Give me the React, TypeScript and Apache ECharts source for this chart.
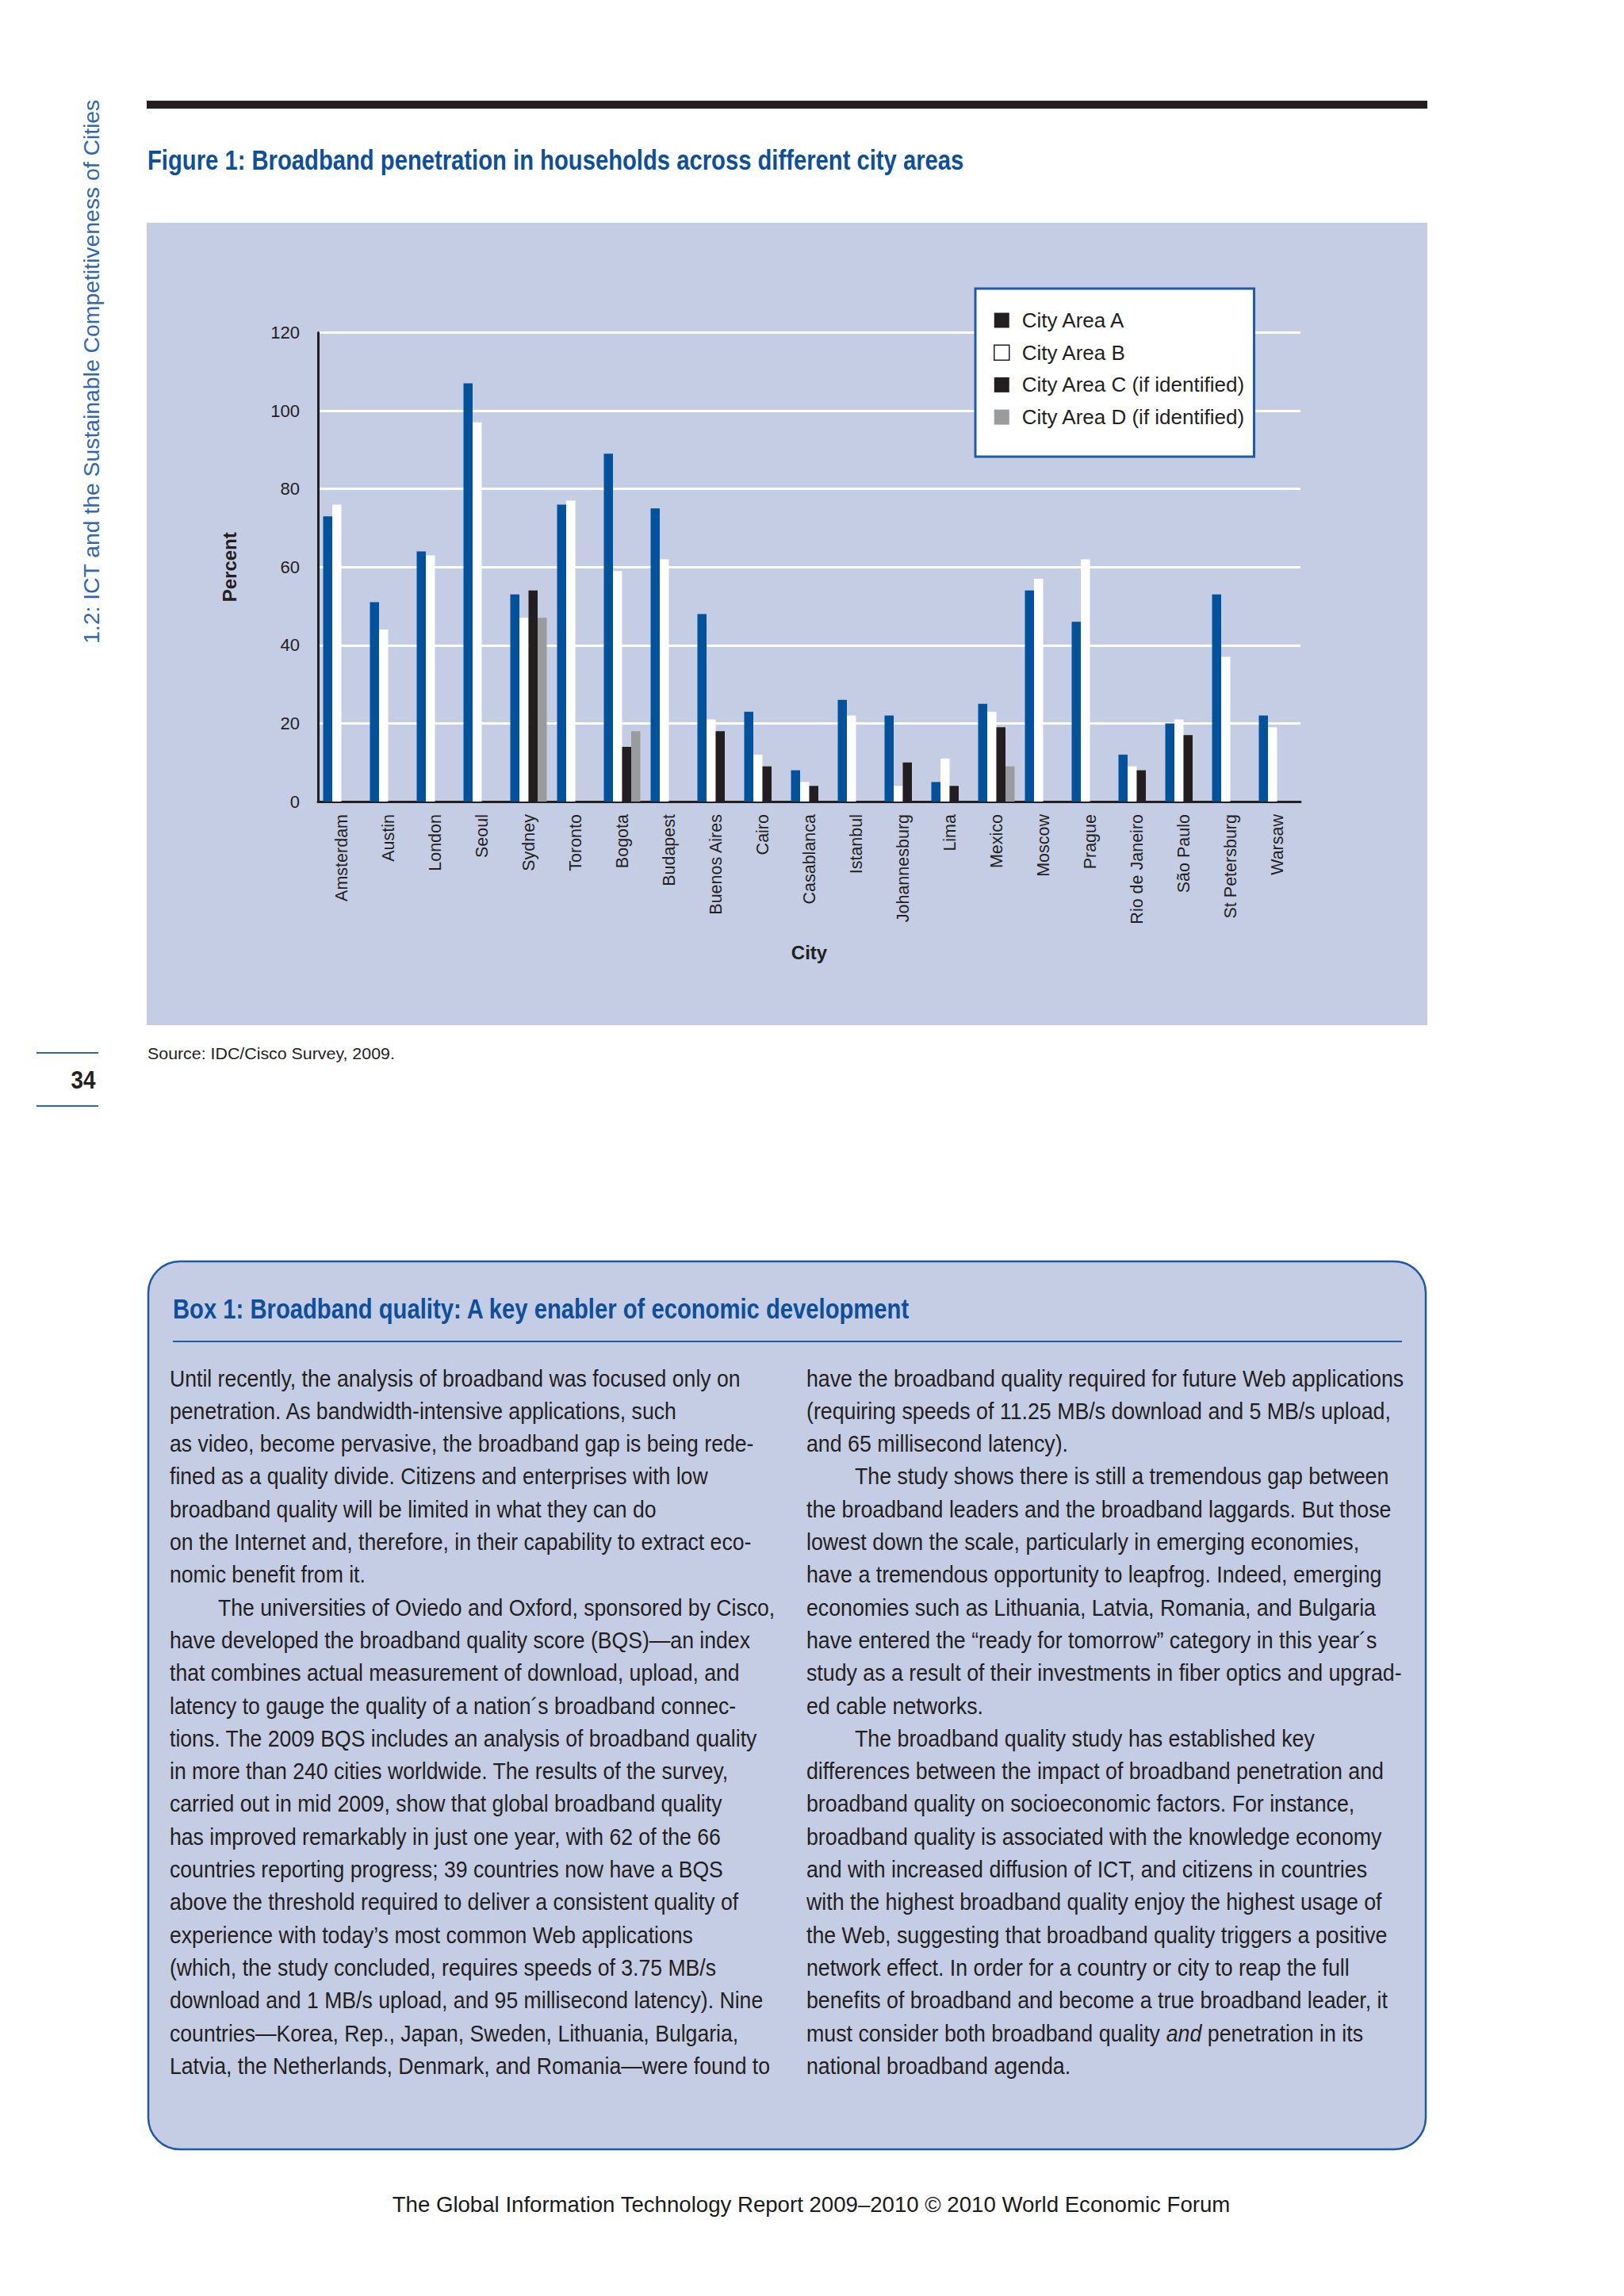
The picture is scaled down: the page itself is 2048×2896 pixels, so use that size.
import React, { useEffect, useRef } from "react";
import * as echarts from "echarts";

// ---------- data ----------
const cities = [
  "Amsterdam", "Austin", "London", "Seoul", "Sydney", "Toronto", "Bogota",
  "Budapest", "Buenos Aires", "Cairo", "Casablanca", "Istanbul", "Johannesburg",
  "Lima", "Mexico", "Moscow", "Prague", "Rio de Janeiro", "São Paulo",
  "St Petersburg", "Warsaw",
];
const areaA = [73, 51, 64, 107, 53, 76, 89, 75, 48, 23, 8, 26, 22, 5, 25, 54, 46, 12, 20, 53, 22];
const areaB = [76, 44, 63, 97, 47, 77, 59, 62, 21, 12, 5, 22, 4, 11, 23, 57, 62, 9, 21, 37, 19];
const areaC = [null, null, null, null, 54, null, 14, null, 18, 9, 4, null, 10, 4, 19, null, null, 8, 17, null, null];
const areaD = [null, null, null, null, 47, null, 18, null, null, null, null, null, null, null, 9, null, null, null, null, null, null];
const seriesNames = [
  "City Area A",
  "City Area B",
  "City Area C (if identified)",
  "City Area D (if identified)",
];
const yMin = 0;
const yMax = 120;
const yInterval = 20;

// ---------- page texts ----------
const sidebarText = "1.2: ICT and the Sustainable Competitiveness of Cities";
const figureTitle = "Figure 1: Broadband penetration in households across different city areas";
const sourceText = "Source: IDC/Cisco Survey, 2009.";
const pageNumber = "34";
const boxTitle = "Box 1: Broadband quality: A key enabler of economic development";
const footerText = "The Global Information Technology Report 2009–2010 © 2010 World Economic Forum";

const leftLines = [
  "Until recently, the analysis of broadband was focused only on",
  "penetration. As bandwidth-intensive applications, such",
  "as video, become pervasive, the broadband gap is being rede-",
  "fined as a quality divide. Citizens and enterprises with low",
  "broadband quality will be limited in what they can do",
  "on the Internet and, therefore, in their capability to extract eco-",
  "nomic benefit from it.",
  "The universities of Oviedo and Oxford, sponsored by Cisco,",
  "have developed the broadband quality score (BQS)—an index",
  "that combines actual measurement of download, upload, and",
  "latency to gauge the quality of a nation´s broadband connec-",
  "tions. The 2009 BQS includes an analysis of broadband quality",
  "in more than 240 cities worldwide. The results of the survey,",
  "carried out in mid 2009, show that global broadband quality",
  "has improved remarkably in just one year, with 62 of the 66",
  "countries reporting progress; 39 countries now have a BQS",
  "above the threshold required to deliver a consistent quality of",
  "experience with today’s most common Web applications",
  "(which, the study concluded, requires speeds of 3.75 MB/s",
  "download and 1 MB/s upload, and 95 millisecond latency). Nine",
  "countries—Korea, Rep., Japan, Sweden, Lithuania, Bulgaria,",
  "Latvia, the Netherlands, Denmark, and Romania—were found to",
];
const leftIndent = [7];
const rightLines = [
  "have the broadband quality required for future Web applications",
  "(requiring speeds of 11.25 MB/s download and 5 MB/s upload,",
  "and 65 millisecond latency).",
  "The study shows there is still a tremendous gap between",
  "the broadband leaders and the broadband laggards. But those",
  "lowest down the scale, particularly in emerging economies,",
  "have a tremendous opportunity to leapfrog. Indeed, emerging",
  "economies such as Lithuania, Latvia, Romania, and Bulgaria",
  "have entered the “ready for tomorrow” category in this year´s",
  "study as a result of their investments in fiber optics and upgrad-",
  "ed cable networks.",
  "The broadband quality study has established key",
  "differences between the impact of broadband penetration and",
  "broadband quality on socioeconomic factors. For instance,",
  "broadband quality is associated with the knowledge economy",
  "and with increased diffusion of ICT, and citizens in countries",
  "with the highest broadband quality enjoy the highest usage of",
  "the Web, suggesting that broadband quality triggers a positive",
  "network effect. In order for a country or city to reap the full",
  "benefits of broadband and become a true broadband leader, it",
  "must consider both broadband quality {i|and} penetration in its",
  "national broadband agenda.",
];
const rightIndent = [3, 11];

// ---------- styling ----------
const FF = '"Liberation Sans", Arial, Helvetica, sans-serif';
const BLUE = "#00529c";
const DARK = "#231f20";
const GREY = "#9a9b9d";
const PANEL = "#c5cde4";
const TITLE_BLUE = "#0d4f9c";
const RULE_BLUE = "#1f5aa6";

function hasFont(ctx: CanvasRenderingContext2D, name: string): boolean {
  const s = "abcdefghijklmnopqrstuvwxyz ABCDEFGHIJKLMNOPQRSTUVWXYZ 0123456789";
  ctx.font = "40px monospace";
  const w1 = ctx.measureText(s).width;
  ctx.font = `40px "${name}", monospace`;
  const w2 = ctx.measureText(s).width;
  ctx.font = "40px serif";
  const w3 = ctx.measureText(s).width;
  ctx.font = `40px "${name}", serif`;
  const w4 = ctx.measureText(s).width;
  return Math.abs(w1 - w2) > 0.5 || Math.abs(w3 - w4) > 0.5;
}

export default function App() {
  const ref = useRef<HTMLDivElement>(null);

  useEffect(() => {
    const el = ref.current;
    if (!el) return;
    const canvas = document.createElement("canvas");
    const ctx = canvas.getContext("2d") as CanvasRenderingContext2D;
    const narrow = hasFont(ctx, "Liberation Sans Narrow");
    const NF = narrow ? '"Liberation Sans Narrow", "Liberation Sans", Arial, sans-serif' : FF;

    const measure = (text: string, size: number, weight = "normal", family = FF) => {
      ctx.font = `${weight} ${size}px ${family}`;
      return ctx.measureText(text).width;
    };

    const fitText = (o: {
      text: string; x: number; y: number; size: number; width?: number;
      weight?: string; fill?: string; align?: string; rotation?: number; scale?: number; rich?: any;
    }) => {
      const weight = o.weight || "normal";
      const plain = o.text.replace(/\{i\|([^}]*)\}/g, "$1");
      let s = o.scale ?? 1;
      if (o.width) s = o.width / measure(plain, o.size, weight);
      return {
        type: "text",
        x: o.x,
        y: o.y,
        z: 10,
        rotation: o.rotation || 0,
        scaleX: s,
        style: {
          text: o.text,
          fontSize: o.size,
          fontFamily: FF,
          fontWeight: weight,
          fill: o.fill || DARK,
          align: o.align || "left",
          verticalAlign: "middle",
          rich: o.rich,
        },
      };
    };

    const graphics: any[] = [];
    // top rule
    graphics.push({ type: "rect", z: 1, shape: { x: 185, y: 127, width: 1615, height: 10 }, style: { fill: DARK } });
    // sidebar
    graphics.push(fitText({ text: sidebarText, x: 116, y: 812, size: 27, width: 687, fill: "#2f68b0", rotation: Math.PI / 2 }));
    // figure title
    graphics.push(fitText({ text: figureTitle, x: 186, y: 202, size: 35, width: 1029, weight: "bold", fill: TITLE_BLUE }));
    // chart panel
    graphics.push({ type: "rect", z: -1, shape: { x: 185, y: 281, width: 1615, height: 1012 }, style: { fill: PANEL } });
    // source
    graphics.push(fitText({ text: sourceText, x: 186, y: 1329, size: 21, width: 312 }));
    // page number
    graphics.push(fitText({ text: pageNumber, x: 105, y: 1362, size: 32, width: 31, weight: "bold", align: "center" }));
    graphics.push({ type: "line", z: 1, shape: { x1: 46, y1: 1328, x2: 124, y2: 1328 }, style: { stroke: "#2c64ad", lineWidth: 2 } });
    graphics.push({ type: "line", z: 1, shape: { x1: 46, y1: 1395, x2: 124, y2: 1395 }, style: { stroke: "#2c64ad", lineWidth: 2 } });
    // box
    graphics.push({ type: "rect", z: 1, shape: { x: 187, y: 1591, width: 1611, height: 1120, r: 40 }, style: { fill: PANEL, stroke: RULE_BLUE, lineWidth: 2.5 } });
    graphics.push(fitText({ text: boxTitle, x: 218, y: 1651, size: 35, width: 930, weight: "bold", fill: TITLE_BLUE }));
    graphics.push({ type: "line", z: 2, shape: { x1: 218, y1: 1692, x2: 1768, y2: 1692 }, style: { stroke: RULE_BLUE, lineWidth: 2 } });

    const bodySize = 30;
    const lineStep = 41.3;
    const firstY = 1738;
    const rich = { i: { fontStyle: "italic", fontSize: bodySize, fontFamily: FF, fill: DARK } };
    const leftScale = 720 / measure(leftLines[0], bodySize);
    const rightScale = 754 / measure(rightLines[0], bodySize);
    leftLines.forEach((t, i) => {
      const ind = leftIndent.indexOf(i) >= 0 ? 61 : 0;
      graphics.push(fitText({ text: t, x: 214 + ind, y: firstY + i * lineStep, size: bodySize, scale: leftScale }));
    });
    rightLines.forEach((t, i) => {
      const ind = rightIndent.indexOf(i) >= 0 ? 61 : 0;
      graphics.push(fitText({ text: t, x: 1017 + ind, y: firstY + i * lineStep, size: bodySize, scale: rightScale, rich }));
    });
    // footer
    graphics.push(fitText({ text: footerText, x: 1023, y: 2781, size: 27, width: 1058, align: "center", fill: "#1a1a1a" }));

    const labelSize = narrow ? 26 : 21.5;
    const nameSize = narrow ? 29 : 24;
    const legendSize = narrow ? 30 : 26;

    const chart = echarts.init(el, undefined, { renderer: "svg", width: 2048, height: 2896 });
    const option: any = {
      animation: false,
      backgroundColor: "#ffffff",
      textStyle: { fontFamily: FF },
      graphic: { elements: graphics },
      grid: { left: 401, top: 419.5, width: 1239, height: 591.5, containLabel: false },
      legend: {
        orient: "vertical",
        left: 1230,
        top: 364,
        padding: [27, 11, 37, 23],
        itemWidth: 19,
        itemHeight: 19,
        itemGap: 14.7,
        icon: "rect",
        backgroundColor: "#ffffff",
        borderColor: RULE_BLUE,
        borderWidth: 3,
        selectedMode: false,
        textStyle: { fontSize: legendSize, fontFamily: NF, color: DARK, lineHeight: 25, padding: [0, 0, 0, 11] },
        data: [
          { name: seriesNames[0], itemStyle: { color: DARK } },
          { name: seriesNames[1], itemStyle: { color: "#ffffff", borderColor: DARK, borderWidth: 1.5 } },
          { name: seriesNames[2], itemStyle: { color: DARK } },
          { name: seriesNames[3], itemStyle: { color: GREY } },
        ],
      },
      xAxis: {
        type: "category",
        data: cities,
        boundaryGap: true,
        name: "City",
        nameLocation: "middle",
        nameGap: 178,
        nameTextStyle: { fontSize: nameSize, fontWeight: "bold", fontFamily: NF, color: DARK },
        axisLine: { show: true, lineStyle: { color: DARK, width: 3 } },
        axisTick: { show: false },
        axisLabel: { rotate: 90, interval: 0, margin: 16, fontSize: labelSize, fontFamily: NF, color: DARK },
        splitLine: { show: false },
      },
      yAxis: {
        type: "value",
        min: yMin,
        max: yMax,
        interval: yInterval,
        name: "Percent",
        nameLocation: "middle",
        nameGap: 100,
        nameTextStyle: { fontSize: nameSize, fontWeight: "bold", fontFamily: NF, color: DARK },
        axisLine: { show: true, lineStyle: { color: DARK, width: 3 } },
        axisTick: { show: false },
        axisLabel: { margin: 23, fontSize: 22, fontFamily: NF, color: DARK },
        splitLine: { show: true, lineStyle: { color: "#ffffff", width: 3 } },
      },
      series: [
        { name: seriesNames[0], type: "bar", data: areaA, barWidth: 11.5, barGap: "0%", itemStyle: { color: BLUE } },
        { name: seriesNames[1], type: "bar", data: areaB, barWidth: 11.5, barGap: "0%", itemStyle: { color: "#ffffff" } },
        { name: seriesNames[2], type: "bar", data: areaC, barWidth: 11.5, barGap: "0%", itemStyle: { color: DARK } },
        { name: seriesNames[3], type: "bar", data: areaD, barWidth: 11.5, barGap: "0%", itemStyle: { color: GREY } },
      ],
    };
    chart.setOption(option);
    return () => chart.dispose();
  }, []);

  return (
    <div
      ref={ref}
      style={{ position: "absolute", left: 0, top: 0, width: 2048, height: 2896, background: "#ffffff" }}
    />
  );
}
